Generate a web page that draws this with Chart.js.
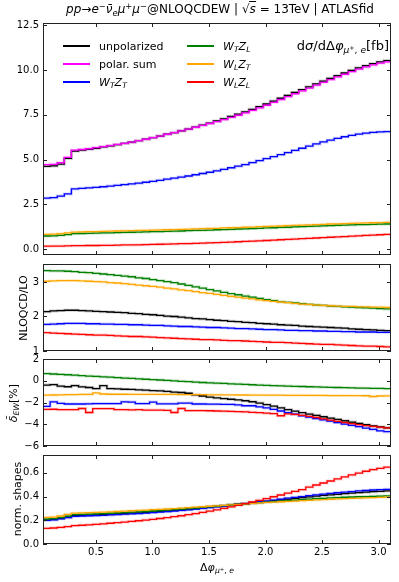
<!DOCTYPE html>
<html>
<head>
<meta charset="utf-8">
<script src="https://cdn.jsdelivr.net/npm/chart.js@4.4.1/dist/chart.umd.min.js"></script>
<style>
  body { margin: 0; background: #fff; font-family: "DejaVu Sans", sans-serif; color: #000; }
  #page { position: relative; width: 399px; height: 582px; overflow: hidden; }
  canvas { position: absolute; left: 0; }
  .t { position: absolute; white-space: nowrap; line-height: 1; }
  .c { transform: translate(-50%, -50%); }
  .rot { transform: translate(-50%, -50%) rotate(-90deg); }
  sub, sup { font-size: 70%; line-height: 0; position: relative; vertical-align: baseline; }
  sup { top: -0.5em; }
  sub { top: 0.3em; }
  .leg { position: absolute; display: flex; align-items: center; height: 16px; font-size: 11px; white-space: nowrap; }
  .sw { display: inline-block; width: 27px; height: 0; border-top: 2px solid; margin-right: 9px; }
</style>
</head>
<body>
<div id="page">
  <canvas id="p1" width="399" height="252" style="top:13px"></canvas>
  <canvas id="p2" width="399" height="107" style="top:254px"></canvas>
  <canvas id="p3" width="399" height="107" style="top:349px"></canvas>
  <canvas id="p4" width="399" height="137" style="top:445px"></canvas>

  <div class="t c" style="left:220px; top:9px; font-size:12px">
    <i>pp</i>→<i>e</i><sup>−</sup><i>ν̄</i><sub><i>e</i></sub><i>μ</i><sup>+</sup><i>μ</i><sup>−</sup>@NLOQCDEW | √<span style="border-top:1px solid #000"><i>s</i></span> = 13TeV | ATLASfid
  </div>
  <div class="t" style="right:10px; top:39px; font-size:13px">d<i>σ</i>/dΔ<i>φ</i><sub><i>μ</i><sup>+</sup>, <i>e</i></sub>[fb]</div>
  <div class="t rot" style="left:22.5px; top:307.5px; font-size:11px">NLOQCD/LO</div>
  <div class="t rot" style="left:13px; top:402.5px; font-size:11px"><i>δ̄</i><sub><i>EW</i></sub>[%]</div>
  <div class="t rot" style="left:16.5px; top:498.5px; font-size:11px">norm. shapes</div>
  <div class="t c" style="left:217px; top:567px; font-size:11px">Δ<i>φ</i><sub><i>μ</i><sup>+</sup>, <i>e</i></sub></div>
  <div id="legend"></div>
</div>

<script>
// bin centres of the 50 bins in delta phi
const binCenters = [0.0314,0.0942,0.1571,0.2199,0.2827,0.3456,0.4084,0.4712,0.5341,0.5969,
  0.6597,0.7226,0.7854,0.8482,0.9111,0.9739,1.0367,1.0996,1.1624,1.2252,
  1.2881,1.3509,1.4137,1.4765,1.5394,1.6022,1.6650,1.7279,1.7907,1.8535,
  1.9164,1.9792,2.0420,2.1049,2.1677,2.2305,2.2934,2.3562,2.4190,2.4819,
  2.5447,2.6075,2.6704,2.7332,2.7960,2.8588,2.9217,2.9845,3.0473,3.1102];

const xTicks = [0.5, 1.0, 1.5, 2.0, 2.5, 3.0];
const xTickLabels = ['0.5', '1.0', '1.5', '2.0', '2.5', '3.0'];

const p1Ticks = [0, 2.5, 5, 7.5, 10, 12.5];
const p1TickLabels = ['0.0', '2.5', '5.0', '7.5', '10.0', '12.5'];
const p2Ticks = [1, 2, 3];
const p2TickLabels = ['1', '2', '3'];
const p3Ticks = [-6, -4, -2, 0, 2];
const p3TickLabels = ['−6', '−4', '−2', '0', '2'];
const p4Ticks = [0, 0.2, 0.4, 0.6];
const p4TickLabels = ['0.0', '0.2', '0.4', '0.6'];

const legendLabels = ['unpolarized', 'polar. sum',
  '<i>W<sub>T</sub>Z<sub>T</sub></i>', '<i>W<sub>T</sub>Z<sub>L</sub></i>',
  '<i>W<sub>L</sub>Z<sub>T</sub></i>', '<i>W<sub>L</sub>Z<sub>L</sub></i>'];

// panel 1: d sigma / d delta phi [fb]
const xsecUnpol = [4.60,4.62,4.64,4.74,5.06,5.47,5.52,5.57,5.63,5.70,
  5.76,5.83,5.90,5.97,6.05,6.13,6.22,6.31,6.41,6.50,
  6.60,6.70,6.81,6.92,7.03,7.15,7.27,7.40,7.53,7.66,
  7.80,7.95,8.10,8.26,8.42,8.58,8.74,8.90,9.06,9.22,
  9.38,9.53,9.68,9.83,9.98,10.12,10.24,10.35,10.45,10.52];
const xsecPolSum = [4.69,4.71,4.73,4.82,5.12,5.52,5.56,5.60,5.66,5.72,
  5.78,5.84,5.90,5.97,6.05,6.13,6.22,6.31,6.41,6.50,
  6.60,6.70,6.80,6.91,7.01,7.12,7.23,7.35,7.47,7.60,
  7.74,7.88,8.03,8.19,8.35,8.51,8.67,8.83,8.99,9.15,
  9.31,9.46,9.61,9.76,9.91,10.05,10.17,10.28,10.38,10.45];
const xsecTT = [2.82,2.84,2.87,2.96,3.08,3.36,3.39,3.42,3.45,3.48,
  3.52,3.56,3.60,3.64,3.68,3.73,3.78,3.84,3.90,3.96,
  4.02,4.08,4.15,4.22,4.29,4.37,4.45,4.54,4.63,4.72,
  4.83,4.94,5.05,5.16,5.27,5.39,5.51,5.63,5.75,5.87,
  5.98,6.08,6.18,6.27,6.35,6.42,6.47,6.51,6.54,6.56];
const xsecTL = [0.72,0.73,0.74,0.77,0.81,0.86,0.87,0.88,0.89,0.90,
  0.91,0.92,0.93,0.94,0.95,0.96,0.97,0.98,0.99,1.00,
  1.01,1.03,1.04,1.05,1.06,1.08,1.09,1.10,1.12,1.13,
  1.15,1.16,1.18,1.19,1.21,1.22,1.24,1.25,1.27,1.28,
  1.30,1.31,1.33,1.34,1.35,1.36,1.37,1.38,1.39,1.40];
const xsecLT = [0.81,0.82,0.83,0.86,0.90,0.95,0.96,0.97,0.98,0.99,
  1.00,1.01,1.02,1.03,1.04,1.05,1.06,1.07,1.08,1.09,
  1.10,1.11,1.13,1.14,1.15,1.16,1.18,1.19,1.20,1.22,
  1.23,1.25,1.26,1.28,1.29,1.31,1.32,1.34,1.35,1.37,
  1.38,1.40,1.41,1.42,1.44,1.45,1.46,1.47,1.48,1.49];
const xsecLL = [0.16,0.16,0.17,0.17,0.18,0.19,0.19,0.20,0.20,0.21,
  0.21,0.22,0.23,0.23,0.24,0.25,0.26,0.27,0.28,0.29,
  0.30,0.31,0.32,0.33,0.35,0.36,0.38,0.39,0.41,0.43,
  0.44,0.46,0.48,0.50,0.52,0.54,0.56,0.58,0.60,0.62,
  0.64,0.66,0.68,0.70,0.72,0.74,0.76,0.78,0.80,0.82];

// panel 2: NLO QCD / LO
const kfacUnpol = [2.13,2.14,2.16,2.17,2.18,2.18,2.17,2.16,2.15,2.14,
  2.13,2.12,2.11,2.09,2.08,2.06,2.05,2.03,2.01,2.00,
  1.98,1.96,1.94,1.93,1.91,1.89,1.88,1.86,1.85,1.83,
  1.82,1.80,1.79,1.78,1.76,1.75,1.74,1.72,1.71,1.70,
  1.69,1.68,1.67,1.66,1.64,1.63,1.62,1.61,1.60,1.59];
const kfacTT = [1.76,1.77,1.78,1.79,1.80,1.80,1.80,1.79,1.79,1.78,
  1.78,1.77,1.77,1.76,1.76,1.75,1.74,1.74,1.73,1.72,
  1.71,1.71,1.70,1.69,1.68,1.68,1.67,1.66,1.65,1.65,
  1.64,1.63,1.62,1.62,1.61,1.60,1.60,1.59,1.59,1.58,
  1.58,1.57,1.57,1.56,1.56,1.55,1.55,1.55,1.54,1.54];
const kfacTL = [3.33,3.33,3.32,3.32,3.31,3.30,3.28,3.27,3.25,3.23,
  3.21,3.19,3.17,3.15,3.12,3.10,3.07,3.04,3.01,2.98,
  2.94,2.90,2.86,2.82,2.78,2.74,2.70,2.66,2.63,2.59,
  2.56,2.52,2.49,2.46,2.43,2.41,2.39,2.37,2.35,2.33,
  2.32,2.30,2.29,2.28,2.27,2.26,2.25,2.24,2.23,2.22];
const kfacLT = [3.01,3.02,3.03,3.04,3.04,3.04,3.03,3.02,3.01,3.00,
  2.98,2.97,2.95,2.93,2.91,2.89,2.87,2.85,2.82,2.80,
  2.77,2.75,2.72,2.69,2.67,2.64,2.61,2.58,2.56,2.53,
  2.51,2.48,2.46,2.44,2.42,2.40,2.38,2.36,2.35,2.33,
  2.32,2.31,2.30,2.29,2.29,2.28,2.28,2.27,2.27,2.26];
const kfacLL = [1.54,1.53,1.52,1.51,1.50,1.49,1.48,1.47,1.46,1.46,
  1.45,1.44,1.43,1.42,1.42,1.41,1.40,1.39,1.38,1.37,
  1.36,1.35,1.34,1.33,1.33,1.32,1.31,1.30,1.30,1.29,
  1.28,1.27,1.26,1.25,1.25,1.24,1.23,1.22,1.21,1.20,
  1.19,1.19,1.18,1.17,1.16,1.15,1.14,1.14,1.13,1.12];

// panel 3: EW corrections [%]
const ewUnpol = [-0.42,-0.40,-0.35,-0.50,-0.55,-0.44,-0.56,-0.62,-0.72,-0.45,
  -0.72,-0.74,-0.78,-0.80,-0.83,-0.87,-0.91,-0.93,-0.98,-1.05,
  -1.08,-1.15,-1.30,-1.40,-1.50,-1.58,-1.64,-1.70,-1.76,-1.84,
  -1.93,-2.05,-2.19,-2.34,-2.49,-2.65,-2.80,-2.94,-3.06,-3.18,
  -3.31,-3.44,-3.56,-3.68,-3.80,-3.92,-4.04,-4.15,-4.25,-4.33];
const ewTT = [-2.35,-2.35,-1.94,-2.08,-2.14,-2.14,-2.14,-2.12,-2.10,-2.10,
  -2.10,-2.10,-1.94,-1.96,-2.10,-2.10,-1.96,-2.12,-2.12,-2.12,
  -2.05,-2.05,-2.14,-2.14,-2.15,-2.15,-2.17,-2.18,-2.22,-2.30,
  -2.30,-2.40,-2.50,-2.63,-2.78,-2.93,-3.08,-3.22,-3.35,-3.48,
  -3.60,-3.72,-3.85,-3.98,-4.10,-4.22,-4.35,-4.48,-4.60,-4.68];
const ewTL = [0.70,0.66,0.62,0.58,0.55,0.51,0.47,0.43,0.40,0.36,
  0.33,0.29,0.25,0.22,0.18,0.14,0.10,0.07,0.03,-0.01,
  -0.05,-0.08,-0.12,-0.16,-0.19,-0.22,-0.25,-0.28,-0.31,-0.34,
  -0.37,-0.40,-0.42,-0.45,-0.47,-0.49,-0.51,-0.53,-0.55,-0.57,
  -0.59,-0.60,-0.62,-0.64,-0.65,-0.67,-0.68,-0.70,-0.71,-0.73];
const ewLT = [-1.33,-1.32,-1.31,-1.30,-1.28,-1.27,-1.26,-1.26,-1.12,-1.22,
  -1.24,-1.24,-1.24,-1.25,-1.25,-1.25,-1.25,-1.26,-1.26,-1.26,
  -1.27,-1.27,-1.28,-1.28,-1.29,-1.29,-1.30,-1.30,-1.31,-1.31,
  -1.32,-1.32,-1.33,-1.33,-1.33,-1.34,-1.34,-1.34,-1.35,-1.35,
  -1.35,-1.36,-1.36,-1.36,-1.37,-1.37,-1.38,-1.45,-1.40,-1.39];
const ewLL = [-2.64,-2.64,-2.62,-2.66,-2.66,-2.66,-2.55,-2.92,-2.56,-2.56,
  -2.56,-2.66,-2.66,-2.68,-2.66,-2.70,-2.70,-2.70,-2.72,-2.92,
  -2.55,-2.74,-2.74,-2.74,-2.76,-2.78,-2.80,-2.82,-2.84,-2.86,
  -2.90,-2.94,-2.98,-3.02,-3.22,-3.04,-3.10,-3.18,-3.27,-3.38,
  -3.50,-3.62,-3.74,-3.84,-3.94,-4.04,-4.12,-4.20,-4.27,-4.34];

// panel 4: normalised shapes
const shapeUnpol = [0.203,0.205,0.208,0.217,0.228,0.240,0.242,0.244,0.246,0.248,
  0.251,0.254,0.257,0.260,0.263,0.267,0.271,0.275,0.279,0.284,
  0.289,0.294,0.299,0.305,0.311,0.317,0.323,0.329,0.335,0.341,
  0.347,0.353,0.359,0.366,0.372,0.379,0.385,0.391,0.397,0.403,
  0.409,0.414,0.419,0.424,0.429,0.433,0.437,0.441,0.444,0.447];
const shapeTT = [0.198,0.200,0.203,0.212,0.222,0.234,0.236,0.238,0.240,0.242,
  0.245,0.248,0.251,0.254,0.257,0.261,0.265,0.269,0.273,0.278,
  0.283,0.288,0.294,0.300,0.306,0.313,0.320,0.327,0.334,0.341,
  0.348,0.355,0.362,0.370,0.378,0.386,0.393,0.400,0.407,0.414,
  0.420,0.426,0.432,0.437,0.442,0.447,0.451,0.455,0.458,0.461];
const shapeTL = [0.208,0.210,0.213,0.222,0.235,0.248,0.250,0.252,0.254,0.256,
  0.259,0.262,0.265,0.268,0.271,0.274,0.278,0.282,0.286,0.290,
  0.294,0.298,0.303,0.308,0.313,0.318,0.323,0.328,0.333,0.338,
  0.343,0.348,0.353,0.358,0.362,0.366,0.370,0.374,0.378,0.382,
  0.385,0.388,0.391,0.394,0.396,0.398,0.400,0.402,0.404,0.405];
const shapeLT = [0.222,0.224,0.227,0.236,0.249,0.260,0.262,0.264,0.266,0.268,
  0.271,0.274,0.277,0.280,0.283,0.286,0.289,0.292,0.295,0.298,
  0.302,0.306,0.310,0.314,0.318,0.322,0.326,0.330,0.334,0.338,
  0.342,0.346,0.350,0.353,0.356,0.359,0.362,0.365,0.368,0.371,
  0.374,0.377,0.380,0.383,0.385,0.387,0.389,0.391,0.393,0.395];
const shapeLL = [0.130,0.132,0.135,0.140,0.147,0.155,0.158,0.162,0.166,0.170,
  0.175,0.180,0.185,0.190,0.196,0.202,0.208,0.215,0.222,0.230,
  0.238,0.247,0.256,0.266,0.277,0.288,0.300,0.313,0.326,0.340,
  0.354,0.368,0.383,0.398,0.413,0.428,0.443,0.458,0.480,0.497,
  0.514,0.531,0.548,0.565,0.582,0.598,0.613,0.627,0.638,0.647];

const colors = ['#000000', '#ff00ff', '#0000ff', '#008000', '#ffa500', '#ff0000'];

function fade(hex, a) {
  const n = parseInt(hex.slice(1), 16);
  return `rgba(${n >> 16},${(n >> 8) & 255},${n & 255},${a})`;
}

// frame on all four sides, ticks pointing inwards like matplotlib
const frameTicks = {
  id: 'frameTicks',
  afterDraw(chart) {
    const {ctx, chartArea: a, scales: {x, y}} = chart;
    ctx.save();
    ctx.strokeStyle = '#222';
    ctx.lineWidth = 1;
    ctx.strokeRect(a.left + 0.5, a.top + 0.5, a.right - a.left - 1, a.bottom - a.top - 1);
    ctx.beginPath();
    x.ticks.forEach(t => {
      const px = Math.round(x.getPixelForValue(t.value)) + 0.5;
      ctx.moveTo(px, a.bottom); ctx.lineTo(px, a.bottom - 4);
      ctx.moveTo(px, a.top); ctx.lineTo(px, a.top + 4);
    });
    y.ticks.forEach(t => {
      const py = Math.round(y.getPixelForValue(t.value)) + 0.5;
      ctx.moveTo(a.left, py); ctx.lineTo(a.left + 4, py);
      ctx.moveTo(a.right, py); ctx.lineTo(a.right - 4, py);
    });
    ctx.stroke();
    ctx.restore();
  }
};

function makePanel(id, series, yMin, yMax, yTicks, yLabels, showX, padTop, padBottom) {
  const sets = [];
  series.forEach(s => {
    const pts = binCenters.map((x, i) => ({x: x, y: s.data[i]}));
    sets.push({data: pts, borderColor: fade(s.color, 0.18), borderWidth: 3, order: 1});
    sets.push({data: pts, borderColor: s.color, borderWidth: 1.3, order: 0});
  });
  sets.reverse();   // first dataset is drawn on top in Chart.js
  sets.forEach(d => { d.stepped = 'after'; d.pointRadius = 0; d.fill = false; d.clip = 0; });

  new Chart(document.getElementById(id), {
    type: 'line',
    data: {datasets: sets},
    plugins: [frameTicks],
    options: {
      responsive: false,
      animation: false,
      events: [],
      layout: {padding: {left: 0, right: 8, top: padTop, bottom: padBottom}},
      plugins: {legend: {display: false}, tooltip: {enabled: false}},
      scales: {
        x: {
          type: 'linear', min: binCenters[0], max: binCenters[binCenters.length - 1],
          grid: {display: false, drawTicks: false}, border: {display: false},
          afterBuildTicks: s => { s.ticks = xTicks.map(v => ({value: v})); },
          afterFit: s => { s.height = showX ? 38 : 0; },
          ticks: {display: showX, autoSkip: false, maxRotation: 0, padding: 2,
                  color: '#000', font: {family: 'DejaVu Sans', size: 10},
                  callback: (v, i) => xTickLabels[i]}
        },
        y: {
          type: 'linear', min: yMin, max: yMax,
          grid: {display: false, drawTicks: false}, border: {display: false},
          afterBuildTicks: s => { s.ticks = yTicks.map(v => ({value: v})); },
          afterFit: s => { s.width = 43; },
          ticks: {autoSkip: false, padding: 4, color: '#000',
                  font: {family: 'DejaVu Sans', size: 10},
                  callback: (v, i) => yLabels[i]}
        }
      }
    }
  });
}

makePanel('p1', [
  {data: xsecUnpol, color: colors[0]}, {data: xsecPolSum, color: colors[1]},
  {data: xsecTT, color: colors[2]}, {data: xsecTL, color: colors[3]},
  {data: xsecLT, color: colors[4]}, {data: xsecLL, color: colors[5]}
], -0.33, 12.62, p1Ticks, p1TickLabels, false, 10, 8);

makePanel('p2', [
  {data: kfacUnpol, color: colors[0]}, {data: kfacTT, color: colors[2]},
  {data: kfacTL, color: colors[3]}, {data: kfacLT, color: colors[4]},
  {data: kfacLL, color: colors[5]}
], 1, 3.52, p2Ticks, p2TickLabels, false, 8, 8);

makePanel('p3', [
  {data: ewUnpol, color: colors[0]}, {data: ewTT, color: colors[2]},
  {data: ewTL, color: colors[3]}, {data: ewLT, color: colors[4]},
  {data: ewLL, color: colors[5]}
], -6, 2, p3Ticks, p3TickLabels, false, 8, 8);

makePanel('p4', [
  {data: shapeUnpol, color: colors[0]}, {data: shapeTT, color: colors[2]},
  {data: shapeTL, color: colors[3]}, {data: shapeLT, color: colors[4]},
  {data: shapeLL, color: colors[5]}
], 0, 0.75, p4Ticks, p4TickLabels, true, 8, 0);

// two-column legend inside the top panel
const legend = document.getElementById('legend');
legendLabels.forEach((lab, i) => {
  const col = i < 3 ? 0 : 1;
  const row = i % 3;
  const el = document.createElement('div');
  el.className = 'leg';
  el.style.left = (col === 0 ? 63 : 187) + 'px';
  el.style.top = (38 + row * 18) + 'px';
  el.innerHTML = `<span class="sw" style="border-color:${colors[i]}"></span><span>${lab}</span>`;
  legend.appendChild(el);
});
</script>
</body>
</html>
